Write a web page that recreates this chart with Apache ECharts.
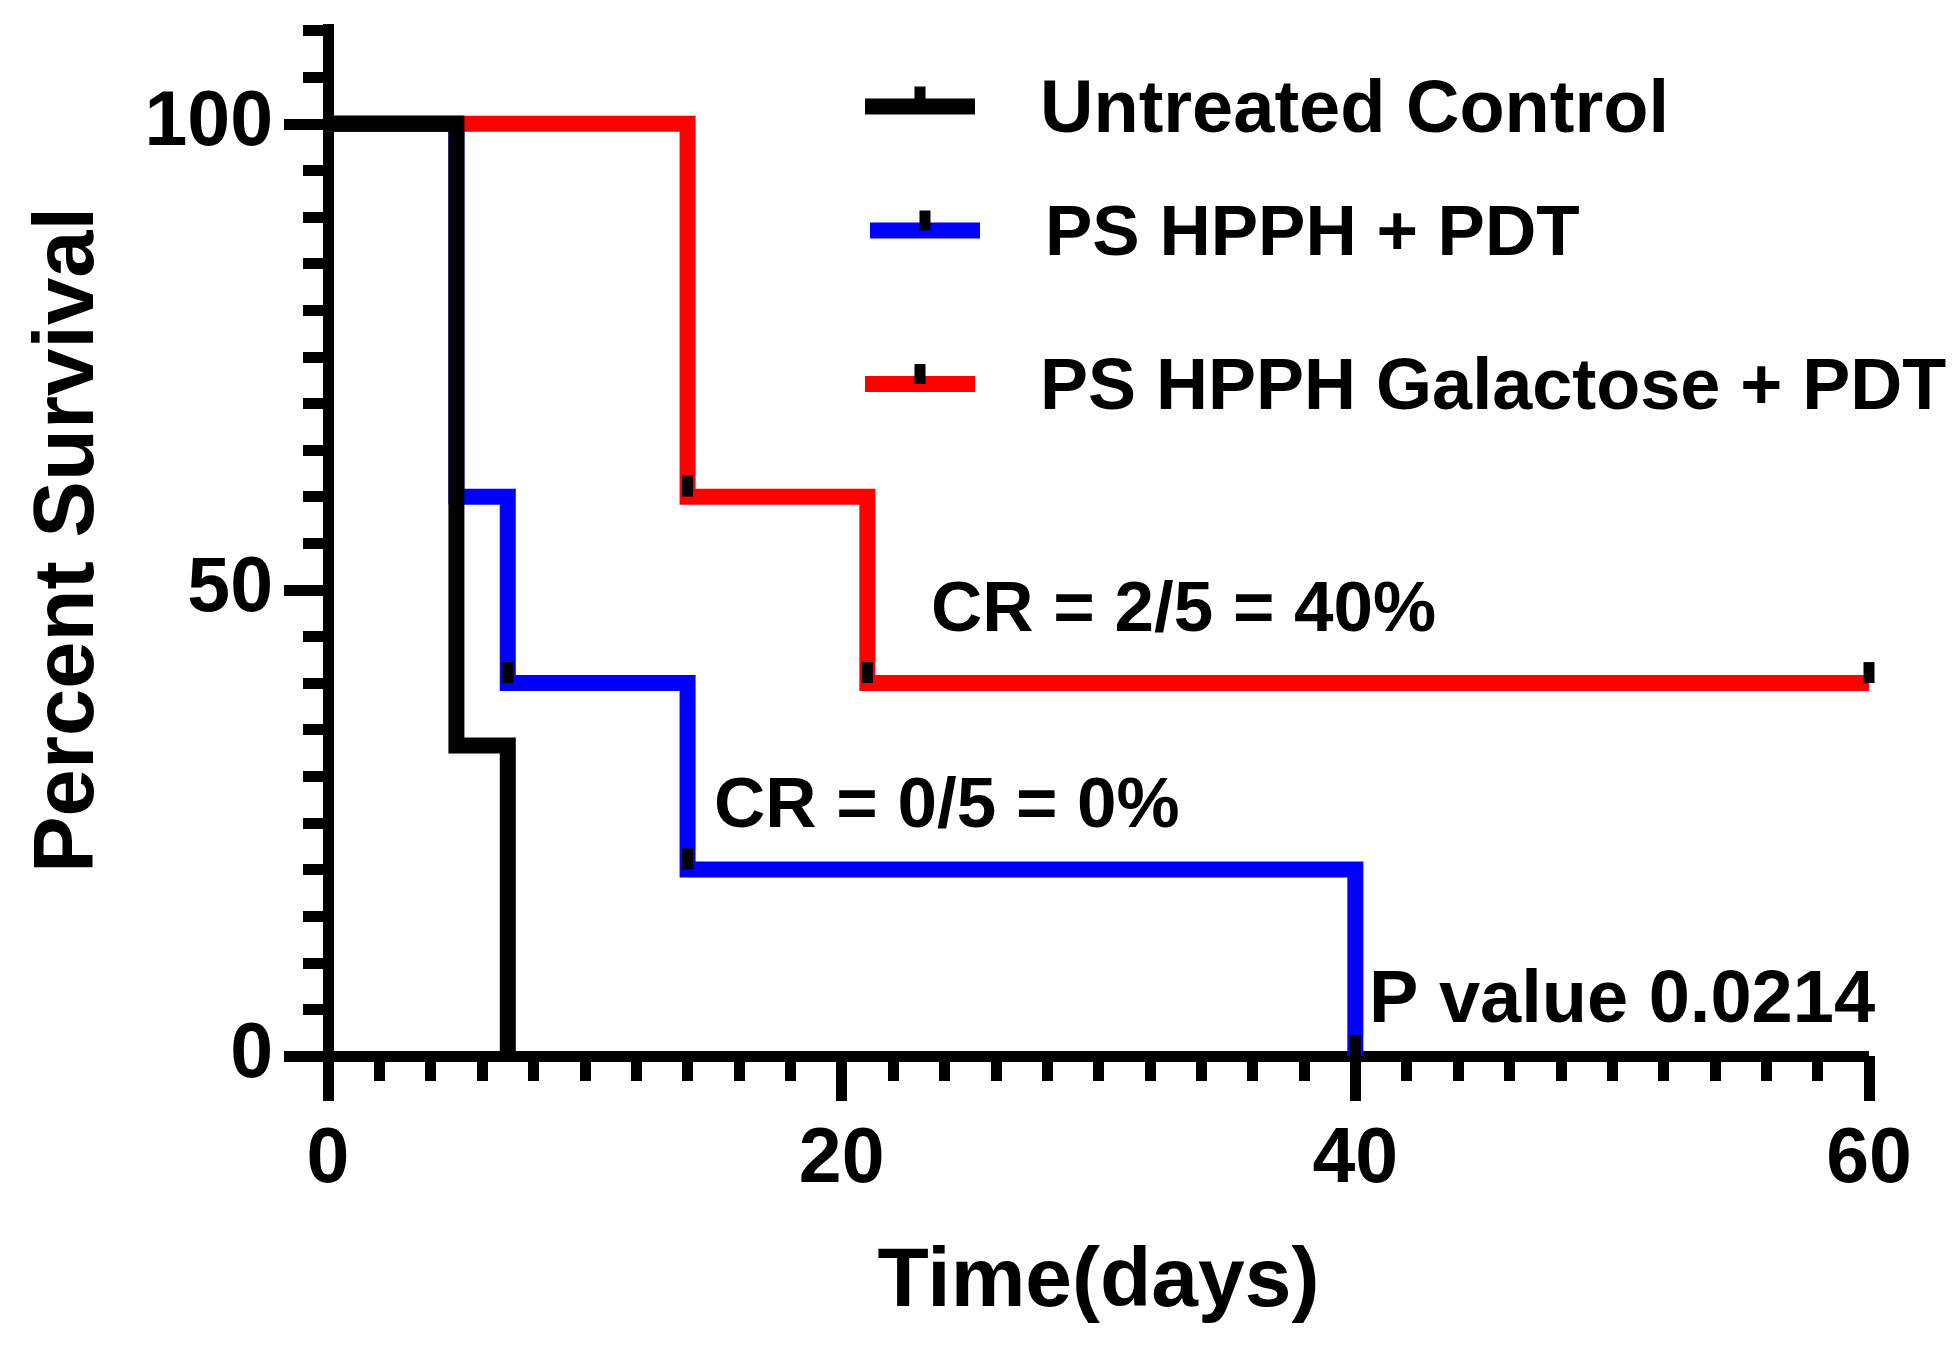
<!DOCTYPE html>
<html>
<head>
<meta charset="utf-8">
<script src="https://cdn.jsdelivr.net/npm/echarts@6.0.0/dist/echarts.min.js"></script>
<style>
html,body{margin:0;padding:0;background:#fff;}
#chart{width:1960px;height:1346px;}
</style>
</head>
<body>
<div id="chart"></div>
<script>
// ---- data ----
const seriesNames = ['Untreated Control', 'PS HPPH + PDT', 'PS HPPH Galactose + PDT'];
const seriesColors = ['#000000', '#0000ff', '#ff0000'];

const controlDays = [0, 5, 7];
const controlSurvival = [100, 33.3, 0];

const hpphDays = [0, 5, 7, 14, 40];
const hpphSurvival = [100, 60, 40, 20, 0];

const galDays = [0, 14, 21, 60];
const galSurvival = [100, 60, 40, 40];

const hpphCensorDays = [7, 14, 40];
const hpphCensorSurvival = [40, 20, 0];
const galCensorDays = [14, 21, 60];
const galCensorSurvival = [60, 40, 40];

const xTickLabels = [0, 20, 40, 60];
const yTickLabels = [0, 50, 100];
const yMinorTickValues = [5, 10, 15, 20, 25, 30, 35, 40, 45, 55, 60, 65, 70, 75, 80, 85, 90, 95, 105, 110];

const annotations = ['CR = 2/5 = 40%', 'CR = 0/5 = 0%', 'P value 0.0214'];

// ---- helpers ----
const FONT = "'Liberation Sans', Arial, Helvetica, sans-serif";
function zip(a, b) { return a.map((v, i) => [v, b[i]]); }
function legendIcon(color) {
  const svg = '<svg xmlns="http://www.w3.org/2000/svg" width="170" height="80" viewBox="0 0 170 80" preserveAspectRatio="none">' +
    '<rect x="0" y="27" width="110" height="16" fill="' + color + '"/>' +
    '<rect x="49.5" y="15" width="11" height="20" fill="#000"/></svg>';
  return 'image://data:image/svg+xml;charset=utf-8,' + encodeURIComponent(svg);
}

const chart = echarts.init(document.getElementById('chart'), null, { renderer: 'canvas' });

const lineStyleBase = { width: 16, join: 'miter', cap: 'butt' };
function kmSeries(name, days, surv, color) {
  return {
    name: name, type: 'line', step: 'end', showSymbol: false, symbol: 'none',
    data: zip(days, surv), color: color,
    lineStyle: Object.assign({ color: color }, lineStyleBase),
    xAxisIndex: 0, yAxisIndex: 0, animation: false, silent: true
  };
}
function censorSeries(name, days, surv) {
  return {
    name: name + ' censored', type: 'scatter', data: zip(days, surv),
    symbol: 'rect', symbolSize: [11, 21], symbolOffset: [0, -10.5],
    itemStyle: { color: '#000', opacity: 1 }, z: 5, animation: false, silent: true
  };
}

const legendCommon = {
  orient: 'horizontal', padding: 0, itemWidth: 170, itemHeight: 80, selectedMode: false,
  textStyle: { fontSize: 72, fontWeight: 'bold', fontFamily: FONT, color: '#000', padding: 0 }
};
function legendText(size) {
  return { fontSize: size, fontWeight: 'bold', fontFamily: FONT, color: '#000', padding: 0 };
}

const option = {
  backgroundColor: '#ffffff',
  animation: false,
  grid: { left: 328, right: 91, top: 24, bottom: 290, containLabel: false },
  legend: [
    Object.assign({}, legendCommon, { left: 865, top: 71.5, textStyle: legendText(74), data: [{ name: seriesNames[0], icon: legendIcon(seriesColors[0]) }] }),
    Object.assign({}, legendCommon, { left: 870, top: 195.5, textStyle: legendText(71), data: [{ name: seriesNames[1], icon: legendIcon(seriesColors[1]) }] }),
    Object.assign({}, legendCommon, { left: 865, top: 349, textStyle: legendText(72), data: [{ name: seriesNames[2], icon: legendIcon(seriesColors[2]) }] })
  ],
  xAxis: {
    type: 'value', min: 0, max: 60, interval: 20, position: 'bottom',
    name: 'Time(days)', nameLocation: 'middle', nameGap: 185,
    nameTextStyle: { fontSize: 84, fontWeight: 'bold', fontFamily: FONT, color: '#000' },
    axisLine: { show: true, onZero: false, lineStyle: { color: '#000', width: 11, cap: 'butt' } },
    axisTick: { show: true, length: 45, lineStyle: { color: '#000', width: 11 } },
    minorTick: { show: true, splitNumber: 10, length: 25, lineStyle: { color: '#000', width: 11 } },
    axisLabel: { fontSize: 77, fontWeight: 'bold', fontFamily: FONT, color: '#000', margin: 66,
      customValues: xTickLabels },
    splitLine: { show: false }, minorSplitLine: { show: false }
  },
  yAxis: [
    {
      type: 'value', min: 0, max: 110.7, position: 'left',
      name: 'Percent Survival', nameLocation: 'middle', nameGap: 216, nameRotate: 90,
      nameTextStyle: { fontSize: 85, fontWeight: 'bold', fontFamily: FONT, color: '#000' },
      axisLine: { show: true, onZero: false, lineStyle: { color: '#000', width: 11, cap: 'butt' } },
      axisTick: { show: true, length: 44, customValues: yTickLabels, lineStyle: { color: '#000', width: 11 } },
      axisLabel: { fontSize: 77, fontWeight: 'bold', fontFamily: FONT, color: '#000', margin: 55,
        customValues: yTickLabels },
      splitLine: { show: false }
    },
    {
      type: 'value', min: 0, max: 110.7, position: 'left', offset: 0,
      axisLine: { show: false },
      axisTick: { show: true, length: 25, customValues: yMinorTickValues, lineStyle: { color: '#000', width: 11 } },
      axisLabel: { show: false },
      splitLine: { show: false }
    }
  ],
  series: [
    kmSeries(seriesNames[1], hpphDays, hpphSurvival, seriesColors[1]),
    kmSeries(seriesNames[2], galDays, galSurvival, seriesColors[2]),
    kmSeries(seriesNames[0], controlDays, controlSurvival, seriesColors[0]),
    censorSeries(seriesNames[1], hpphCensorDays, hpphCensorSurvival),
    censorSeries(seriesNames[2], galCensorDays, galCensorSurvival)
  ],
  graphic: [
    { type: 'text', x: 931, y: 611, z: 10, style: { text: annotations[0], fontSize: 71, fontWeight: 'bold', fontFamily: FONT, fill: '#000', align: 'left', verticalAlign: 'middle' } },
    { type: 'text', x: 714, y: 807, z: 10, style: { text: annotations[1], fontSize: 71, fontWeight: 'bold', fontFamily: FONT, fill: '#000', align: 'left', verticalAlign: 'middle' } },
    { type: 'text', x: 1369, y: 1002, z: 10, style: { text: annotations[2], fontSize: 74, fontWeight: 'bold', fontFamily: FONT, fill: '#000', align: 'left', verticalAlign: 'middle' } }
  ]
};

chart.setOption(option);
</script>
</body>
</html>
